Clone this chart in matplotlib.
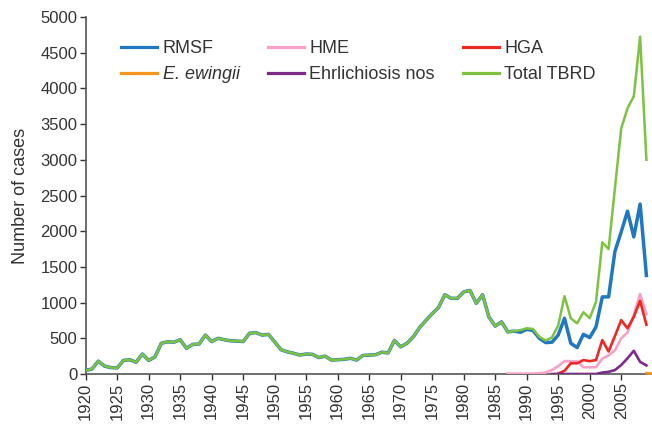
import matplotlib
matplotlib.use("Agg")
import matplotlib.pyplot as plt
import numpy as np

plt.rcParams['font.family'] = ['Liberation Sans', 'DejaVu Sans']

# ---- data ----
rmsf_years = list(range(1920, 2010))
rmsf = [50, 70, 180, 110, 90, 85, 190, 200, 165, 280,
        190, 240, 430, 450, 445, 480, 360, 415, 420, 545,
        455, 500, 480, 465, 460, 455, 570, 580, 545, 555,
        450, 340, 310, 290, 265, 280, 275, 230, 250, 195,
        200, 205, 220, 195, 260, 265, 270, 305, 295, 470,
        380, 430, 520, 650, 750, 845, 930, 1110, 1060, 1060,
        1150, 1170, 990, 1110, 800, 670, 730, 590, 600, 585,
        625, 610, 500, 440, 445, 545, 780, 430, 370, 555,
        510, 660, 1080, 1080, 1715, 1990, 2280, 1920, 2380, 1380]

total_years = list(range(1920, 2010))
total = rmsf[:69] + [615, 640, 630, 520, 470, 510, 680, 1090, 780, 710, 865,
                     780, 1010, 1845, 1750, 2600, 3440, 3720, 3890, 4725, 3000]

hme_years = list(range(1987, 2010))
hme = [5, 5, 5, 5, 5, 10, 20, 55, 110, 180, 180, 175, 95, 95, 95,
       215, 260, 330, 500, 580, 830, 1120, 840]

hga_years = list(range(1995, 2010))
hga = [5, 45, 150, 150, 195, 180, 195, 475, 315, 530, 755, 640, 800, 1025, 690]

ewingii_years = [2009, 2010]
ewingii = [12, 5]

ehr_years = list(range(1994, 2010))
ehr = [0, 0, 0, 0, 0, 0, 0, 0, 20, 30, 55, 125, 220, 325, 170, 120]

xticks = list(range(1920, 2010, 5))
yticks = list(range(0, 5001, 500))

# ---- colours ----
c_rmsf = '#1f78c1'
c_hme = '#f7a1c8'
c_hga = '#ee2722'
c_ewi = '#f7941d'
c_ehr = '#7d2b8b'
c_tot = '#7dc241'
txt = '#333333'

fig = plt.figure(figsize=(6.52, 4.25), dpi=100)
W, H = 652, 425
left, right, bottom, top = 85.7, 652.7, 374, 17
ax = fig.add_axes([left / W, 1 - bottom / H, (right - left) / W, (bottom - top) / H])

l_rmsf, = ax.plot(rmsf_years, rmsf, color=c_rmsf, lw=2.5, label='RMSF', zorder=3)
l_hme, = ax.plot(hme_years, hme, color=c_hme, lw=1.9, label='HME', zorder=4)
l_hga, = ax.plot(hga_years, hga, color=c_hga, lw=1.9, label='HGA', zorder=5)
l_ewi, = ax.plot(ewingii_years, ewingii, color=c_ewi, lw=1.9, label='E. ewingii', zorder=6, clip_on=False)
l_ehr, = ax.plot(ehr_years, ehr, color=c_ehr, lw=1.9, label='Ehrlichiosis nos', zorder=6)
l_tot, = ax.plot(total_years, total, color=c_tot, lw=1.8, label='Total TBRD', zorder=4)

ax.set_xlim(1920, 2010)
ax.set_ylim(0, 5000)
ax.set_xticks(xticks)
ax.set_xticklabels([str(t) for t in xticks], rotation=90)
ax.set_yticks(yticks)
ax.tick_params(axis='both', labelsize=12, colors=txt, length=4, width=1, direction='out', pad=2)
for s in ['top', 'right']:
    ax.spines[s].set_visible(False)
for s in ['left', 'bottom']:
    ax.spines[s].set_color('#555555')
    ax.spines[s].set_linewidth(1.2)

ax.set_ylabel('Number of cases', fontsize=13, color=txt)
ax.yaxis.set_label_coords(-0.1, 0.5)

handles = [l_rmsf, l_ewi, l_hme, l_ehr, l_hga, l_tot]
leg = fig.legend(handles, [h.get_label() for h in handles], ncol=3,
                 loc='upper left', bbox_to_anchor=(121 / W, 1 - 40 / H),
                 bbox_transform=fig.transFigure, frameon=False,
                 fontsize=13, handlelength=2.0, handletextpad=0.3,
                 columnspacing=1.55, labelspacing=0.5, borderpad=0, borderaxespad=0)
for t in leg.get_texts():
    t.set_color(txt)
    if t.get_text() == 'E. ewingii':
        t.set_fontstyle('italic')
for lh in leg.get_lines():
    lh.set_linewidth(2.3)

fig.savefig('out.png', dpi=100)
